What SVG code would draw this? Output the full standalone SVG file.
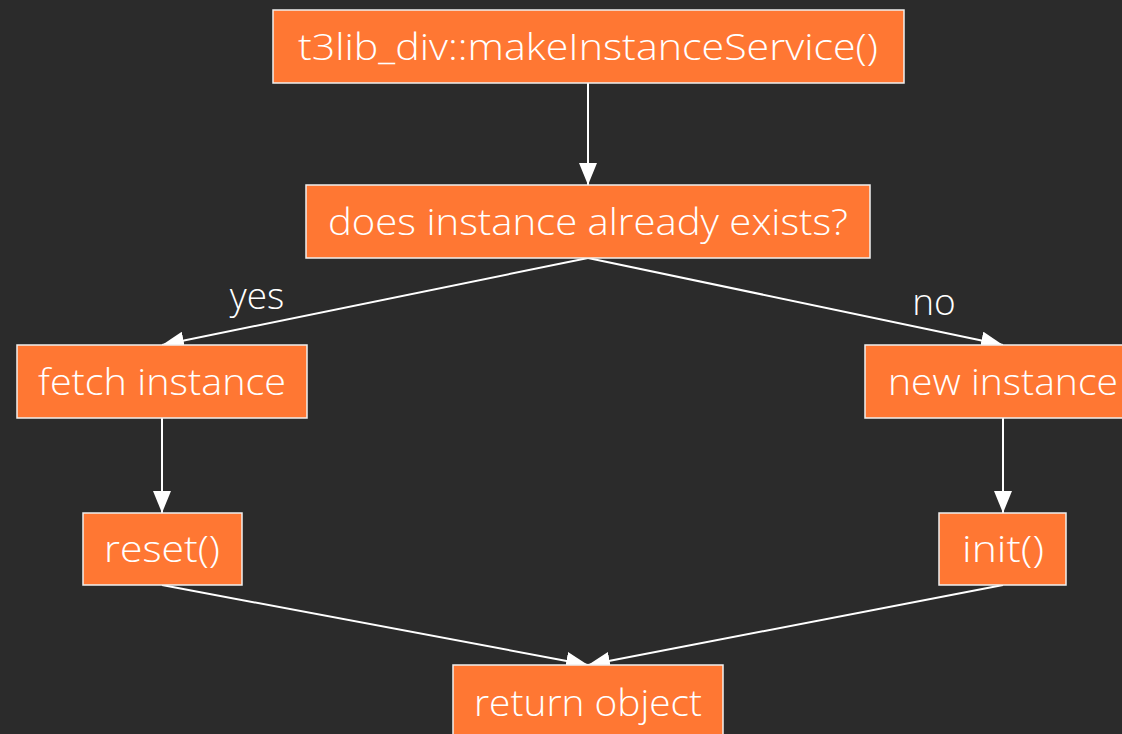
<svg xmlns="http://www.w3.org/2000/svg" width="1122" height="734" viewBox="0 0 1122 734">
<defs>
<style>
.n rect{fill:#ff7733;stroke:#f0f0f0;stroke-width:1.5}
.n text,.lbl{font-family:"Open Sans","Noto Sans",sans-serif;font-weight:300;font-size:37px;fill:#ffffff;text-anchor:middle}
.e line{stroke:#ffffff;stroke-width:2;marker-end:url(#ah)}
</style>
<marker id="ah" viewBox="0 0 22 18" refX="22" refY="9" markerWidth="22" markerHeight="18" markerUnits="userSpaceOnUse" orient="auto">
<path d="M0,0 L22,9 L0,18 Z" fill="#ffffff"/>
</marker>
</defs>
<rect width="1122" height="734" fill="#2b2b2b"/>
<g class="e" id="connectors">
<line x1="588" y1="83" x2="588" y2="185"/>
<line x1="588" y1="258" x2="162" y2="345"/>
<line x1="588" y1="258" x2="1003" y2="345"/>
<line x1="162" y1="418" x2="162" y2="513"/>
<line x1="1003" y1="418" x2="1003" y2="513"/>
<line x1="162" y1="585" x2="588" y2="665"/>
<line x1="1003" y1="585" x2="588" y2="665"/>
</g>
<text class="lbl" x="257" y="309">yes</text>
<text class="lbl" x="934" y="315">no</text>
<g class="n" id="start"><rect x="273" y="10" width="631" height="73"/><text x="588" y="60" textLength="580" lengthAdjust="spacingAndGlyphs">t3lib_div::makeInstanceService()</text></g>
<g class="n" id="exists"><rect x="306" y="185" width="564" height="73"/><text x="588" y="235" textLength="520" lengthAdjust="spacingAndGlyphs">does instance already exists?</text></g>
<g class="n" id="fetch"><rect x="17" y="345" width="290" height="73"/><text x="162" y="395" textLength="248" lengthAdjust="spacingAndGlyphs">fetch instance</text></g>
<g class="n" id="new"><rect x="865" y="345" width="276" height="73"/><text x="1003" y="395" textLength="230" lengthAdjust="spacingAndGlyphs">new instance</text></g>
<g class="n" id="reset"><rect x="83" y="513" width="159" height="72"/><text x="162" y="562" textLength="116" lengthAdjust="spacingAndGlyphs">reset()</text></g>
<g class="n" id="init"><rect x="939" y="513" width="127" height="72"/><text x="1003" y="562" textLength="82" lengthAdjust="spacingAndGlyphs">init()</text></g>
<g class="n" id="return"><rect x="453" y="665" width="270" height="80"/><text x="588" y="716" textLength="228" lengthAdjust="spacingAndGlyphs">return object</text></g>
</svg>
